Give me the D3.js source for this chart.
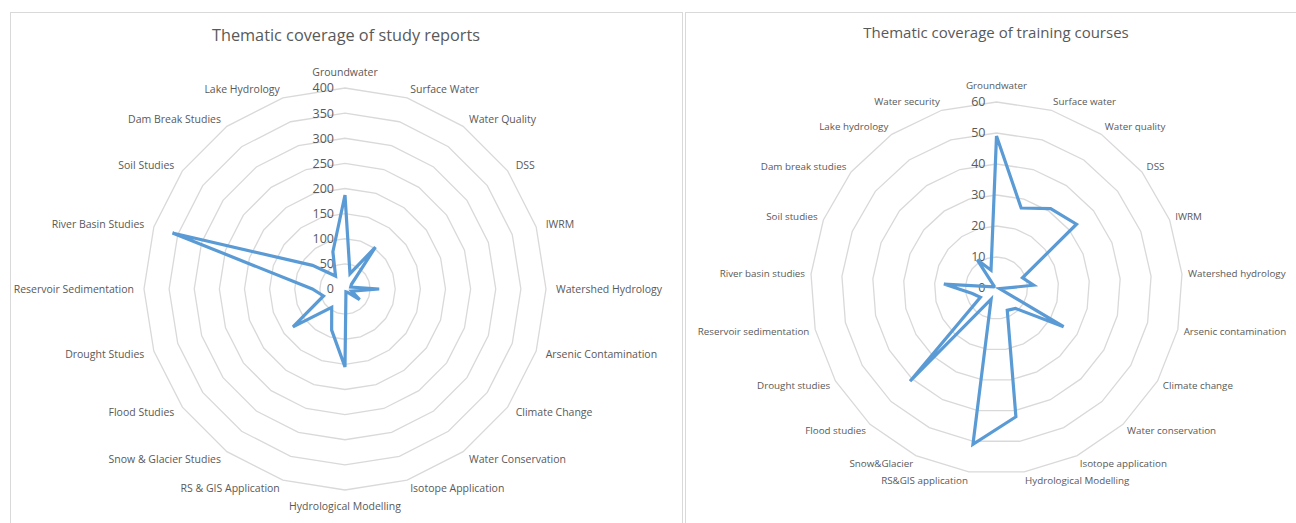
<!DOCTYPE html>
<html>
<head>
<meta charset="utf-8">
<script src="https://cdn.jsdelivr.net/npm/d3@7"></script>
<style>
  body { margin: 0; background: #fff; }
  svg { display: block; font-family: "Open Sans", "Liberation Sans", sans-serif; }
</style>
</head>
<body>
<svg id="chart" width="1296" height="523"></svg>
<script>
// Study reports (left chart)
const reportThemes = ["Groundwater", "Surface Water", "Water Quality", "DSS", "IWRM",
  "Watershed Hydrology", "Arsenic Contamination", "Climate Change", "Water Conservation",
  "Isotope Application", "Hydrological Modelling", "RS & GIS Application",
  "Snow & Glacier Studies", "Flood Studies", "Drought Studies", "Reservoir Sedimentation",
  "River Basin Studies", "Soil Studies", "Dam Break Studies", "Lake Hydrology"];
const reportCounts = [187, 32, 103, 16, 12, 68, 14, 36, 8, 6, 155, 86, 45, 128, 45, 65, 361, 80, 32, 78];
const reportTicks = [0, 50, 100, 150, 200, 250, 300, 350, 400];

// Training courses (right chart)
const courseThemes = ["Groundwater", "Surface water", "Water quality", "DSS", "IWRM",
  "Watershed hydrology", "Arsenic contamination", "Climate change", "Water conservation",
  "Isotope application", "Hydrological Modelling", "RS&GIS application", "Snow&Glacier",
  "Flood studies", "Drought studies", "Reservoir sedimentation", "River basin studies",
  "Soil studies", "Dam break studies", "Lake hydrology", "Water security"];
const courseCounts = [49, 27, 31, 33, 9, 12, 1, 25, 9, 8, 42, 51, 4, 41, 6, 8, 17, 1, 1, 11, 6];
const courseTicks = [0, 10, 20, 30, 40, 50, 60];

const svg = d3.select("#chart");

// chart frames
svg.append("rect").attr("x", 10.5).attr("y", 12.5).attr("width", 672).attr("height", 530)
  .attr("fill", "none").attr("stroke", "#d9d9d9");
svg.append("rect").attr("x", 685.5).attr("y", 12.5).attr("width", 640).attr("height", 530)
  .attr("fill", "none").attr("stroke", "#d9d9d9");

function radar(opt) {
  const g = svg.append("g").attr("transform", `translate(${opt.cx},${opt.cy})`);
  const n = opt.themes.length;
  const maxV = opt.ticks[opt.ticks.length - 1];

  const angle = d3.scaleLinear().domain([0, n]).range([0, 2 * Math.PI]);
  const r = d3.scaleLinear().domain([0, maxV]).range([0, opt.radius]);

  // grid polygons
  const ring = d3.lineRadial().angle((d, i) => angle(i)).radius(d => r(d)).curve(d3.curveLinearClosed);
  g.selectAll(".ring")
    .data(opt.ticks.filter(t => t > 0))
    .join("path")
    .attr("d", t => ring(d3.range(n).map(() => t)))
    .attr("fill", "none")
    .attr("stroke", "#d9d9d9")
    .attr("stroke-width", 1.3);

  // value axis labels
  g.selectAll(".tick")
    .data(opt.ticks)
    .join("text")
    .attr("x", -11)
    .attr("y", t => -r(t))
    .attr("dy", "0.35em")
    .attr("text-anchor", "end")
    .attr("fill", "#595959")
    .style("font-size", "12.5px")
    .text(t => t);

  // category labels
  g.selectAll(".cat")
    .data(opt.themes)
    .join("text")
    .each(function(name, i) {
      const a = angle(i);
      const s = Math.sin(a), c = Math.cos(a);
      const vx = r(maxV) * s, vy = -r(maxV) * c;
      const t = d3.select(this);
      if (Math.abs(s) < 0.02) {
        t.attr("x", vx).attr("y", vy + (c > 0 ? -16 : 16)).attr("text-anchor", "middle");
      } else {
        t.attr("x", vx + opt.labelGap * s).attr("y", vy - 9 * c).attr("text-anchor", s > 0 ? "start" : "end");
      }
    })
    .attr("dy", "0.35em")
    .attr("fill", "#595959")
    .style("font-size", opt.labelSize)
    .text(d => d);

  // data line
  const line = d3.lineRadial()
    .angle((d, i) => angle(i))
    .radius(d => r(d))
    .curve(d3.curveLinearClosed);
  g.append("path")
    .datum(opt.values)
    .attr("d", line)
    .attr("fill", "none")
    .attr("stroke", "#5b9bd5")
    .attr("stroke-width", 3.2)
    .attr("stroke-linejoin", "miter");

  // title
  svg.append("text")
    .attr("x", opt.titleX)
    .attr("y", opt.titleY)
    .attr("text-anchor", "middle")
    .attr("fill", "#595959")
    .style("font-size", opt.titleSize)
    .text(opt.title);
}

radar({
  themes: reportThemes, values: reportCounts, ticks: reportTicks,
  cx: 345, cy: 289, radius: 201, labelSize: "10.5px", labelGap: 10,
  title: "Thematic coverage of study reports", titleX: 346, titleY: 41, titleSize: "16.3px"
});

radar({
  themes: courseThemes, values: courseCounts, ticks: courseTicks,
  cx: 996.5, cy: 288, radius: 186, labelSize: "9.8px", labelGap: 6,
  title: "Thematic coverage of training courses", titleX: 996, titleY: 38, titleSize: "15px"
});
</script>
</body>
</html>
